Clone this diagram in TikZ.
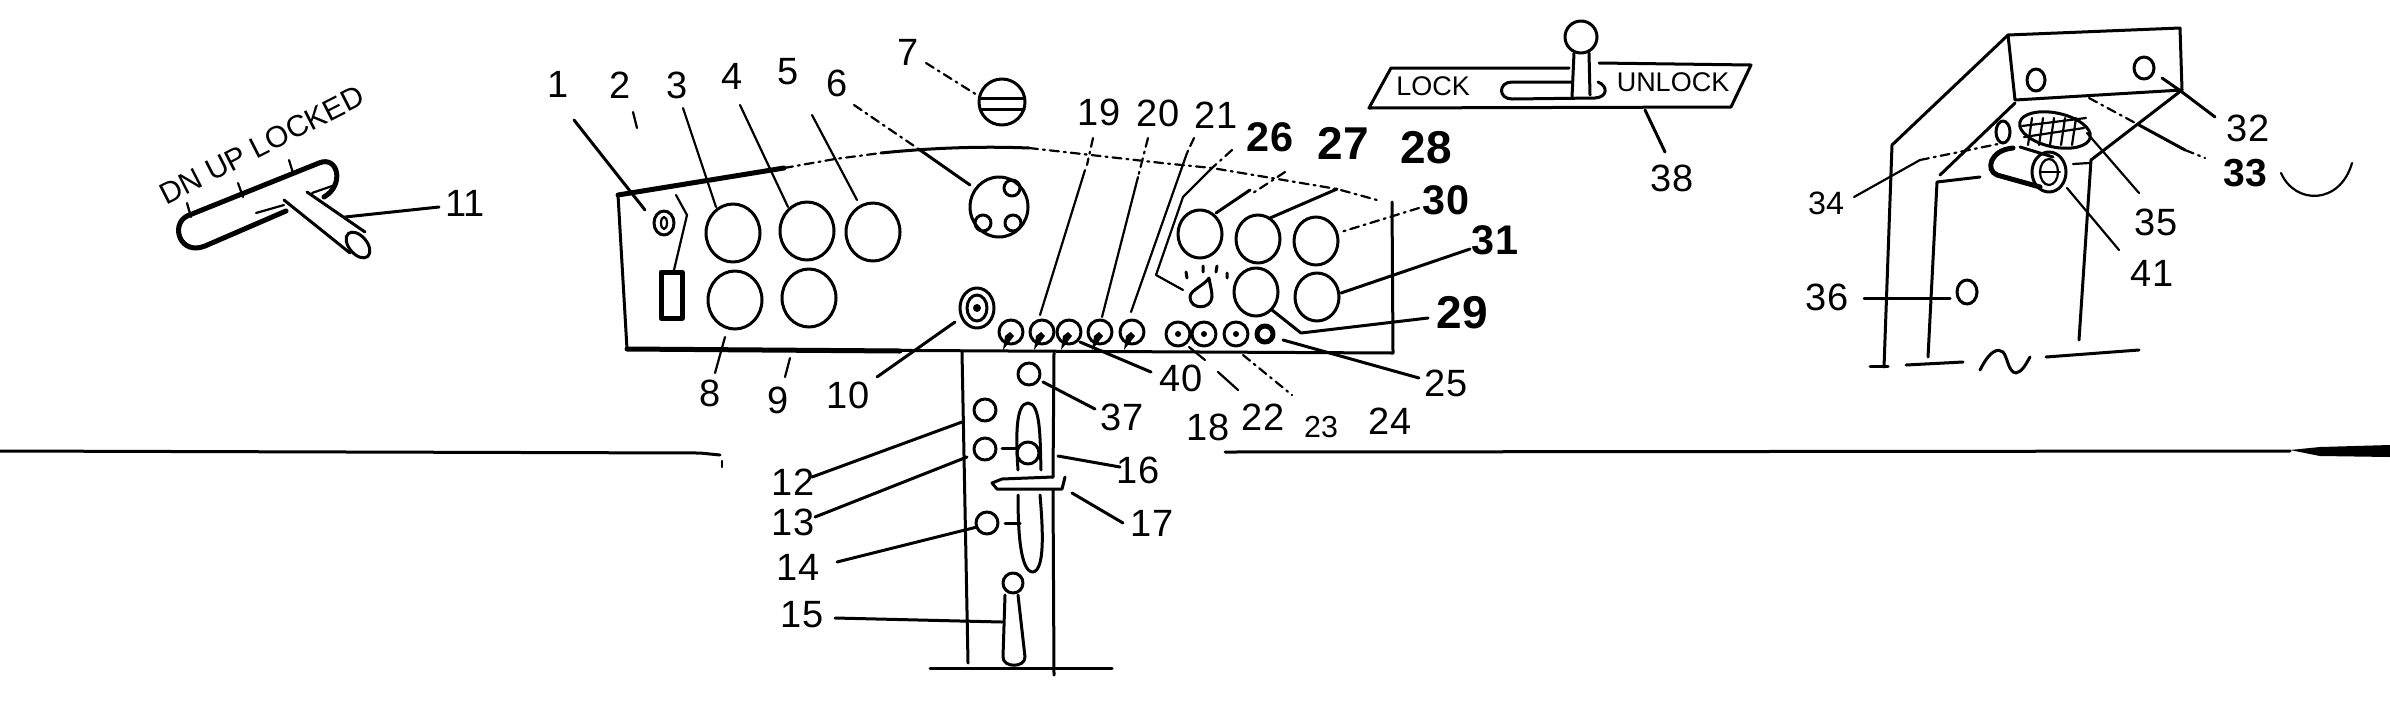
\documentclass[tikz,border=0pt]{standalone}
\usepackage{fontspec}
\setmainfont{Liberation Sans}
\begin{document}
\begin{tikzpicture}[x=1pt,y=-1pt,line cap=round,line join=round,
  ln/.style={line width=3pt},
  hv/.style={line width=5pt},
  th/.style={line width=2.2pt},
  dl/.style={line width=2.2pt,dash pattern=on 9pt off 5pt on 2pt off 5pt},
  lbl/.style={inner sep=0pt,font=\fontsize{38}{38}\selectfont},
  blbl/.style={inner sep=0pt,font=\fontsize{46}{46}\selectfont\bfseries},
  tlbl/.style={inner sep=0pt,font=\fontsize{27}{27}\selectfont},
  dnlbl/.style={inner sep=0pt,font=\fontsize{30}{30}\selectfont}]
\useasboundingbox (0,0) rectangle (2390,716);
\fill[white] (0,0) rectangle (2390,716);

% horizon lines
\draw[ln] (0,451) -- (700,453) -- (720,455);
\draw[th] (722,461) -- (722,467);
\draw[ln] (1225,452) -- (2290,451);
\fill (2290,450) -- (2320,447) -- (2390,445) -- (2390,457) -- (2320,456) -- cycle;

% T handle
\node[dnlbl,rotate=27] (tl) at (262,145) {DN UP LOCKED};
\draw[hv] (187,216) -- (319,163) .. controls (338,155) and (345,185) .. (324,197);
\draw[hv] (286,211) -- (205,246) .. controls (180,256) and (170,225) .. (187,216);
\draw[ln] (284,200) -- (350,253);
\draw[ln] (307,192) -- (365,232);
\draw[ln,rotate around={-50:(358,245)}] (358,245) ellipse (15 and 9);
\draw[th] (187,203) -- (191,217) (238,183) -- (243,197) (289,160) -- (293,173);
\draw[th] (256,213) -- (284,205) (312,193) -- (335,185);
\draw[ln] (345,217) -- (439,207);
\node[lbl] (l11) at (465,203) {11};

% panel
\draw[ln] (618,195) -- (627,349) -- (1393,353) -- (1392,202);
\draw[hv] (618,195) -- (784,168);
\draw[hv] (627,349) -- (900,351);
\draw[dl] (784,168) -- (835,159) -- (881,153);
\draw[ln] (881,153) .. controls (930,148) and (980,146) .. (1029,148);
\draw[dl] (1029,148) -- (1162,163) -- (1212,168) -- (1337,189) -- (1377,200);

% panel circles
\foreach \cx/\cy in {733/233,807/231,873/232,735/300,809/298}
  \draw[ln] (\cx,\cy) ellipse (27 and 29);
\foreach \cx/\cy in {1200/234,1258/239,1316/241,1256/292,1317/297}
  \draw[ln] (\cx,\cy) ellipse (22 and 24);
\draw[ln] (664,223) ellipse (10 and 12);
\draw[th] (664,223) ellipse (3 and 6);
\draw[hv] (661,272) rectangle (682,318);

% item 6, 7, 10
\draw[ln] (999,207) ellipse (29 and 30);
\draw[ln] (1012,188) ellipse (8 and 8) (983,223) ellipse (8 and 8) (1013,223) ellipse (8 and 8);
\draw[ln] (1002,102) ellipse (23 and 23);
\draw[ln] (980,98) -- (1024,98) (980,109) -- (1024,109);
\draw[ln] (977,308) ellipse (17 and 20);
\draw[ln] (977,308) ellipse (10 and 13);
\fill (977,308) circle (4);

% knobs
\foreach \kx in {1011,1042,1069,1100,1132}{
  \draw[ln] (\kx,332) circle (12);
  \fill (\kx-1,332) -- (\kx+3,336) -- (\kx-8,350) -- (\kx-6,336) -- cycle;
}
\foreach \kx in {1178,1204,1236}{
  \draw[ln] (\kx,334) ellipse (12 and 12);
  \fill (\kx,334) circle (3);
}
\draw[hv] (1265,334) circle (8);

% lamp
\draw[ln] (1209,278) .. controls (1205,285) and (1190,290) .. (1190,297)
   .. controls (1190,310) and (1211,310) .. (1212,297) .. controls (1212,290) and (1210,285) .. (1209,278);
\draw[ln] (1186,272) -- (1187,278) (1203,266) -- (1203,272) (1217,266) -- (1216,272) (1227,273) -- (1227,278);

% leaders top left
\draw[ln] (574,120) -- (645,210);
\draw[th] (633,112) -- (637,128);
\draw[th] (676,195) -- (687,215) -- (674,270);
\draw[th] (683,108) -- (716,207);
\draw[th] (740,105) -- (788,207);
\draw[th] (812,115) -- (857,200);
\draw[dl] (854,105) -- (920,150);
\draw[ln] (920,150) -- (970,185);
\draw[dl] (926,63) -- (977,95);
\draw[th] (725,337) -- (715,373);
\draw[th] (790,358) -- (785,377);
\draw[ln] (877,377) -- (955,322);

% leaders top right
\draw[dl] (1093,138) -- (1087,165);
\draw[th] (1085,170) -- (1040,315);
\draw[dl] (1148,138) -- (1138,177);
\draw[th] (1138,177) -- (1102,317);
\draw[dl] (1194,138) -- (1187,153);
\draw[th] (1187,153) -- (1131,312);
\draw[dl] (1232,150) -- (1212,168);
\draw[th] (1212,168) -- (1183,197) -- (1156,275) -- (1183,290);
\draw[dl] (1285,172) -- (1250,195);
\draw[ln] (1250,190) -- (1216,213);
\draw[ln] (1337,189) -- (1270,218);
\draw[dl] (1419,208) -- (1341,232);
\draw[ln] (1470,249) -- (1341,293);
\draw[ln] (1428,318) -- (1301,333) -- (1272,310);
\draw[ln] (1419,378) -- (1283,340);
\draw[ln] (1151,372) -- (1080,342);
\draw[th] (1189,347) -- (1205,360) (1218,372) -- (1238,390);
\draw[dl] (1243,355) -- (1292,395);

% column
\draw[ln] (962,352) -- (968,663);
\draw[ln] (1054,353) -- (1053,477);
\draw[ln] (1053,490) -- (1054,675);
\draw[ln] (930,668) -- (1112,668);
\foreach \cx/\cy in {1029/374,985/410,985/449,987/523}
  \draw[ln] (\cx,\cy) circle (11);
\draw[ln] (1018,470) .. controls (1016,440) and (1015,403) .. (1028,403)
   .. controls (1041,403) and (1040,440) .. (1041,470);
\draw[ln] (1018,495) .. controls (1018,530) and (1020,572) .. (1033,572)
   .. controls (1045,570) and (1043,530) .. (1040,495);
\draw[ln] (1028,453) circle (11);
\draw[ln] (1002,448) -- (1018,448);
\draw[ln] (1005,523) -- (1020,523);
\draw[ln] (1053,477) -- (1002,479) -- (992,483) -- (997,489) -- (1062,489) -- (1065,477);
\draw[ln] (1013,583) circle (10);
\draw[ln] (1005,595) -- (1003,657) .. controls (1003,668) and (1025,668) .. (1025,657) -- (1018,595);
\draw[ln] (835,618) -- (1002,622);
\draw[ln] (812,477) -- (962,422);
\draw[ln] (815,517) -- (967,457);
\draw[ln] (837,562) -- (977,527);
\draw[ln] (1058,456) -- (1120,467);
\draw[ln] (1072,493) -- (1123,523);
\draw[ln] (1043,382) -- (1095,409);

% lock plate
\draw[ln] (1569,68) -- (1391,68) -- (1369,108) -- (1731,107) -- (1751,65) -- (1599,63);
\draw[ln] (1581,37) ellipse (16 and 16);
\draw[ln] (1574,53) -- (1572,97) (1589,53) -- (1590,95);
\draw[ln] (1572,82) -- (1512,82) .. controls (1498,82) and (1498,99) .. (1512,99)
   -- (1595,98) .. controls (1608,97) and (1608,86) .. (1598,82);
\node[tlbl] (lk) at (1433,86) {LOCK};
\node[tlbl] (ulk) at (1673,82) {UNLOCK};
\draw[ln] (1645,110) -- (1665,152);

% bracket
\draw[ln] (2008,35) -- (2180,28) -- (2182,90) -- (2015,100) -- cycle;
\draw[ln] (2008,35) -- (1892,145) -- (1884,367);
\draw[ln] (1870,366) -- (1888,366);
\draw[ln] (2015,103) -- (1940,175);
\draw[ln] (1980,177) -- (1937,182) -- (1928,357);
\draw[ln] (2182,90) -- (2091,160) -- (2079,340);
\draw[ln] (1906,365) -- (1963,362);
\draw[ln] (1980,370) .. controls (1990,350) and (1998,348) .. (2003,352)
   .. controls (2008,358) and (2008,372) .. (2016,373) .. controls (2022,372) and (2026,364) .. (2030,357);
\draw[ln] (2046,357) -- (2139,350);
\draw[ln] (2036,80) ellipse (9 and 11);
\draw[ln] (2144,68) ellipse (10 and 11);
\draw[ln] (2162,78) -- (2182,92) -- (2215,117);
\draw[dl] (2089,98) -- (2139,125);
\draw[ln] (2139,125) -- (2185,150);
\draw[dl] (2185,150) -- (2205,158);
\draw[th] (1854,197) -- (1920,160);
\draw[dl] (1920,160) -- (2003,143);
\draw[ln] (2003,132) ellipse (7 and 11);
% keypad
\draw[ln,rotate around={-12:(2055,130)}] (2055,130) ellipse (36 and 17);
\foreach \hx in {2032,2043,2054,2065,2076}
  \draw[th] (\hx,118) -- (\hx-4,145);
\draw[th] (2022,126) -- (2086,118) (2024,137) -- (2084,128);
% cylinder
\draw[ln] (2020,147) -- (2053,157);
\draw[hv] (2013,148) .. controls (1990,150) and (1985,170) .. (1997,175) -- (2040,187);
\draw[ln] (2049,172) ellipse (17 and 20);
\draw[th] (2049,172) ellipse (9 and 13);
\draw[th] (2040,172) -- (2060,172);
\draw[th] (2073,164) -- (2089,163);
\draw[th] (2067,188) -- (2119,250);
\draw[th] (2087,133) -- (2139,193);
\draw[ln] (1864,298) -- (1950,298);
\draw[ln] (1967,292) ellipse (10 and 12);
\draw[th] (2281,173) .. controls (2295,205) and (2340,205) .. (2352,163);

% labels
\node[lbl] (l1) at (558,84) {1};
\node[lbl] (l2) at (620,85) {2};
\node[lbl] (l3) at (677,85) {3};
\node[lbl] (l4) at (732,76) {4};
\node[lbl] (l5) at (788,72) {5};
\node[lbl] (l6) at (837,83) {6};
\node[lbl] (l7) at (908,52) {7};
\node[lbl] (l8) at (710,393) {8};
\node[lbl] (l9) at (778,400) {9};
\node[lbl] (l10) at (848,395) {10};
\node[lbl] (l12) at (793,482) {12};
\node[lbl] (l13) at (793,522) {13};
\node[lbl] (l14) at (798,567) {14};
\node[lbl] (l15) at (802,615) {15};
\node[lbl] (l16) at (1138,470) {16};
\node[lbl] (l17) at (1152,523) {17};
\node[lbl] (l18) at (1208,427) {18};
\node[lbl] (l19) at (1099,112) {19};
\node[lbl] (l20) at (1158,113) {20};
\node[lbl] (l21) at (1216,115) {21};
\node[lbl] (l22) at (1263,417) {22};
\node[lbl,scale=.8] (l23) at (1321,427) {23};
\node[lbl] (l24) at (1390,421) {24};
\node[lbl] (l25) at (1446,383) {25};
\node[blbl,scale=.9] (l26) at (1270,137) {26};
\node[blbl] (l27) at (1343,143) {27};
\node[blbl] (l28) at (1426,148) {28};
\node[blbl] (l29) at (1462,313) {29};
\node[blbl,scale=.9] (l30) at (1446,200) {30};
\node[blbl,scale=.9] (l31) at (1495,240) {31};
\node[lbl] (l32) at (2248,128) {32};
\node[blbl,scale=.85] (l33) at (2245,173) {33};
\node[lbl,scale=.85] (l34) at (1826,203) {34};
\node[lbl] (l35) at (2156,222) {35};
\node[lbl] (l36) at (1827,297) {36};
\node[lbl] (l37) at (1122,417) {37};
\node[lbl] (l38) at (1672,178) {38};
\node[lbl] (l40) at (1181,378) {40};
\node[lbl] (l41) at (2152,273) {41};
\end{tikzpicture}
\end{document}
